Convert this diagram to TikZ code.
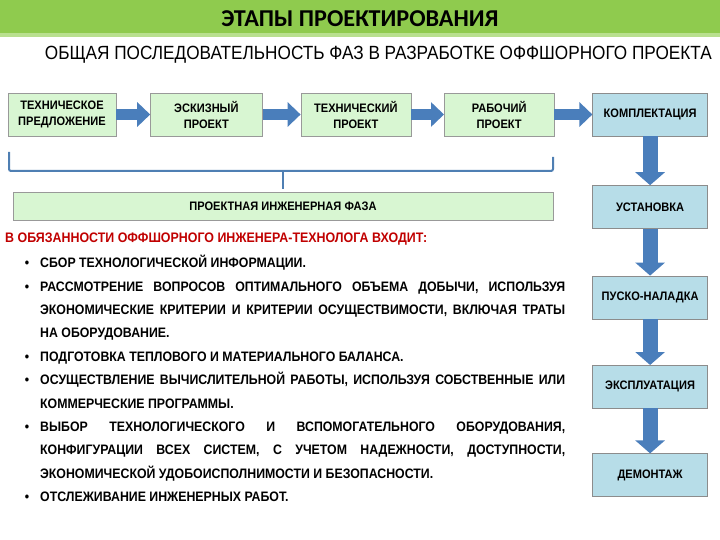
\documentclass[tikz,border=0pt]{standalone}
\usepackage{fontspec}
\setmainfont{Liberation Sans}
\newfontfamily\titlefont{Carlito}
\newfontfamily\narrowfont[FakeStretch=0.9]{Liberation Sans}
\usetikzlibrary{arrows.meta, positioning, calc}

\definecolor{banner}{HTML}{8FCB4E}
\definecolor{bannerlight}{HTML}{B9E08F}
\definecolor{phasegreen}{HTML}{D8F6D2}
\definecolor{stageblue}{HTML}{B7DDE8}
\definecolor{arrowblue}{HTML}{4A7EBB}
\definecolor{braceblue}{HTML}{4F7FB3}
\definecolor{dutyred}{HTML}{C00000}

\newcommand{\boxfont}{\narrowfont\bfseries\fontsize{12.3}{16}\selectfont}
\newcommand{\listfont}{\narrowfont\bfseries\fontsize{13.7}{23.4}\selectfont
  \hyphenpenalty=10000 \exhyphenpenalty=10000 \tolerance=9999}
\newcommand{\dutyitem}{\par\noindent\llap{\textbullet\hspace{11pt}}}

\begin{document}
\begin{tikzpicture}[x=1pt, y=-1pt,
    phasebox/.style={rectangle, draw=black!40, fill=phasegreen, minimum width=110pt, minimum height=43pt, align=center, font=\boxfont},
    stagebox/.style={rectangle, draw=black!45, fill=stageblue, minimum width=115pt, minimum height=43pt, align=center, font=\boxfont},
    flowarrow/.style={draw=arrowblue, line width=11pt, -{Triangle[length=13pt, width=24pt]}},
    downarrow/.style={draw=arrowblue, line width=15pt, -{Triangle[length=13pt, width=29pt]}},
    brace/.style={draw=braceblue, line width=2pt, rounded corners=2pt},
    dutylist/.style={text width=525pt, align=justify, inner sep=0pt, anchor=north west, font=\listfont},
  ]

  \useasboundingbox (0,0) rectangle (720,540);
  \fill[banner] (0,0) rectangle (720,33);
  \fill[bannerlight] (0,33) rectangle (720,37);
  \node[font=\titlefont\bfseries\fontsize{24.2}{28}\selectfont] (title) at (360,19) {ЭТАПЫ ПРОЕКТИРОВАНИЯ};
  \node[anchor=east, inner sep=0pt, font=\narrowfont\fontsize{19.1}{22}\selectfont] (subtitle) at (712,55) {ОБЩАЯ ПОСЛЕДОВАТЕЛЬНОСТЬ ФАЗ В РАЗРАБОТКЕ ОФФШОРНОГО ПРОЕКТА};

  \node[phasebox, minimum width=108pt] (techoffer) at (62,114.5) {ТЕХНИЧЕСКОЕ\\ПРЕДЛОЖЕНИЕ};
  \node[phasebox, minimum width=112pt, right=34pt of techoffer] (sketch) {ЭСКИЗНЫЙ\\ПРОЕКТ};
  \node[phasebox, right=38pt of sketch] (techproj) {ТЕХНИЧЕСКИЙ\\ПРОЕКТ};
  \node[phasebox, right=33pt of techproj] (workproj) {РАБОЧИЙ\\ПРОЕКТ};
  \node[stagebox, right=38pt of workproj] (kompl) {КОМПЛЕКТАЦИЯ};

  \draw[flowarrow] (techoffer) -- (sketch);
  \draw[flowarrow] (sketch) -- (techproj);
  \draw[flowarrow] (techproj) -- (workproj);
  \draw[flowarrow] (workproj) -- (kompl);

  \node[stagebox, below=49pt of kompl] (install) {УСТАНОВКА};
  \node[stagebox, below=47pt of install] (startup) {ПУСКО-НАЛАДКА};
  \node[stagebox, below=46pt of startup] (operation) {ЭКСПЛУАТАЦИЯ};
  \node[stagebox, below=45pt of operation] (dismantle) {ДЕМОНТАЖ};

  \draw[downarrow] (kompl) -- (install);
  \draw[downarrow] (install) -- (startup);
  \draw[downarrow] (startup) -- (operation);
  \draw[downarrow] (operation) -- (dismantle);

  \node[phasebox, minimum width=540pt, minimum height=28pt] (engphase) at (283,206) {ПРОЕКТНАЯ ИНЖЕНЕРНАЯ ФАЗА};

  % bracket over the first four phases
  \coordinate (braceleft) at (9,152);
  \coordinate (braceright) at (553,157);
  \coordinate (bracemid) at (283,171);
  \draw[brace] (braceleft) |- (braceright |- bracemid) -- (braceright);
  \draw[brace, line width=2.5pt] (bracemid) -- ([yshift=3pt]engphase.north);

  \node[anchor=west, inner sep=0pt, text=dutyred, font=\narrowfont\bfseries\fontsize{13.8}{15}\selectfont] (duties) at (5,239) {В ОБЯЗАННОСТИ ОФФШОРНОГО ИНЖЕНЕРА-ТЕХНОЛОГА ВХОДИТ:};

  \node[dutylist] (dutylist) at (40,244) {%
    \dutyitem СБОР ТЕХНОЛОГИЧЕСКОЙ ИНФОРМАЦИИ.
    \dutyitem РАССМОТРЕНИЕ ВОПРОСОВ ОПТИМАЛЬНОГО ОБЪЕМА ДОБЫЧИ, ИСПОЛЬЗУЯ\linebreak
      ЭКОНОМИЧЕСКИЕ КРИТЕРИИ И КРИТЕРИИ ОСУЩЕСТВИМОСТИ, ВКЛЮЧАЯ ТРАТЫ\linebreak
      НА ОБОРУДОВАНИЕ.
    \dutyitem ПОДГОТОВКА ТЕПЛОВОГО И МАТЕРИАЛЬНОГО БАЛАНСА.
    \dutyitem ОСУЩЕСТВЛЕНИЕ ВЫЧИСЛИТЕЛЬНОЙ РАБОТЫ, ИСПОЛЬЗУЯ СОБСТВЕННЫЕ ИЛИ\linebreak
      КОММЕРЧЕСКИЕ ПРОГРАММЫ.
    \dutyitem ВЫБОР ТЕХНОЛОГИЧЕСКОГО И ВСПОМОГАТЕЛЬНОГО ОБОРУДОВАНИЯ,\linebreak
      КОНФИГУРАЦИИ ВСЕХ СИСТЕМ, С УЧЕТОМ НАДЕЖНОСТИ, ДОСТУПНОСТИ,\linebreak
      ЭКОНОМИЧЕСКОЙ УДОБОИСПОЛНИМОСТИ И БЕЗОПАСНОСТИ.
    \dutyitem ОТСЛЕЖИВАНИЕ ИНЖЕНЕРНЫХ РАБОТ.};

\end{tikzpicture}
\end{document}
